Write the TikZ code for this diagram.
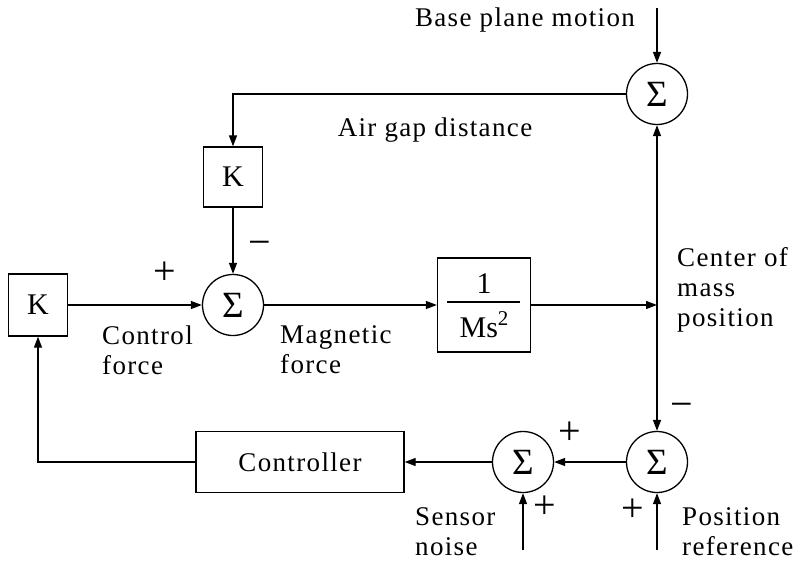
\documentclass[tikz,border=0pt]{standalone}
\usepackage{fontspec}
\setmainfont{Liberation Serif}
\newfontfamily\spaced[LetterSpace=5]{Liberation Serif}
\newcommand{\lbl}{\spaced\fontsize{27}{30}\selectfont}
\usetikzlibrary{arrows.meta}

\begin{document}
\begin{tikzpicture}[
    x=1pt,y=-1pt,
    every node/.style={font=\lbl},
    block/.style={draw, line width=1.3pt, inner sep=0pt, minimum width=59pt, minimum height=60pt, font=\fontsize{30}{32}\selectfont},
    summer/.style={draw, circle, line width=1.3pt, minimum size=61pt, inner sep=0pt, font=\fontsize{37}{37}\selectfont},
    note/.style={align=left, anchor=west, inner sep=0pt},
    sign/.style={font=\fontsize{40}{40}\selectfont},
    ptr/.style={-{Triangle[length=11pt,width=8pt]}, line width=1.3pt},
    biptr/.style={{Triangle[length=11pt,width=8pt]}-{Triangle[length=11pt,width=8pt]}, line width=1.3pt}
]
    \useasboundingbox (0,0) rectangle (805,564);

    % summing junctions
    \node[summer] (base) at (657,94) {Σ};
    \node[summer] (mag) at (233,305) {Σ};
    \node[summer] (err) at (657,462) {Σ};
    \node[summer] (noise) at (523,462) {Σ};

    % blocks
    \node[block] (kgap) at (233,177) {K};
    \node[block, minimum height=62pt] (kctl) at (38,305) {K};
    \node[block, minimum width=93pt, minimum height=94pt] (plant) at (484,305) {};
    \node[font=\fontsize{30}{32}\selectfont] (num) at (484,284) {1};
    \node[font=\fontsize{30}{32}\selectfont] (den) at (484,325) {Ms\raisebox{0.4em}{\fontsize{21}{21}\selectfont 2}};
    \draw[line width=1.3pt] (447,302) -- (520,302);
    \node[block, minimum width=208pt, minimum height=61pt, font=\lbl] (ctrl) at (300,462) {Controller};

    \coordinate (basein) at (657,8);
    \coordinate (snsin) at (523,550);
    \coordinate (refin) at (657,550);
    \coordinate (cm) at (657,305);

    % signal paths
    \draw[ptr] (basein) -- (base);
    \draw[ptr] (base.west) -| (kgap.north);
    \draw[ptr] (kgap) -- (mag);
    \draw[ptr] (kctl) -- (mag);
    \draw[ptr] (mag) -- (plant);
    \draw[ptr] (plant) -- (cm);
    \draw[biptr] (base) -- (err);
    \draw[ptr] (err) -- (noise);
    \draw[ptr] (noise) -- (ctrl);
    \draw[ptr] (ctrl.west) -| (kctl.south);
    \draw[ptr] (snsin) -- (noise);
    \draw[ptr] (refin) -- (err);

    % labels
    \node (lbase) at (525,20) {Base plane motion};
    \node (lgap) at (435,130) {Air gap distance};
    \node[note] (lctl) at (102,350) {Control\\force};
    \node[note] (lmag) at (280,350) {Magnetic\\force};
    \node[note] (lcm) at (677,290) {Center of\\mass\\position};
    \node[note] (lsns) at (415,532) {Sensor\\noise};
    \node[note] (lref) at (682,532) {Position\\reference};

    % signs
    \node[sign] (s1) at (260,248) {−};
    \node[sign] (s2) at (165,273) {+};
    \node[sign] (s3) at (682,410) {−};
    \node[sign] (s4) at (570,433) {+};
    \node[sign] (s5) at (545,507) {+};
    \node[sign] (s6) at (633,510) {+};
\end{tikzpicture}
\end{document}
